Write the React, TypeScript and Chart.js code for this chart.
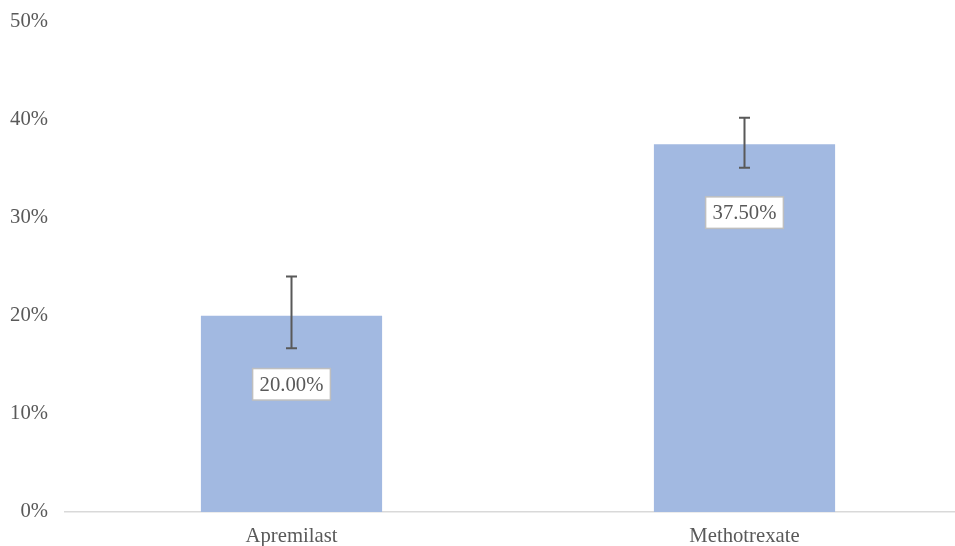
import React, { useEffect, useRef } from 'react';
import { Chart, registerables } from 'chart.js';

Chart.register(...registerables);

const categories = ['Apremilast', 'Methotrexate'];
const values = [20.0, 37.5];
const errorHigh = [24.0, 40.2];
const errorLow = [16.7, 35.1];
const valueLabels = ['20.00%', '37.50%'];
const yTicksMax = 50;
const yTickStep = 10;

const FONT = '"Liberation Serif", "Times New Roman", serif';
const TEXT = '#595959';
const FS = 20.7;

export default function App() {
  const ref = useRef<HTMLCanvasElement>(null);

  useEffect(() => {
    document.body.style.margin = '0';
    document.body.style.overflow = 'hidden';
    if (!ref.current) return;

    const errLabels = {
      id: 'errLabels',
      afterDatasetsDraw(chart: any) {
        const ctx = chart.ctx;
        const meta = chart.getDatasetMeta(0);
        const ys = chart.scales.y;
        meta.data.forEach((bar: any, i: number) => {
          const x = bar.x;
          const yh = ys.getPixelForValue(errorHigh[i]);
          const yl = ys.getPixelForValue(errorLow[i]);
          ctx.save();
          ctx.strokeStyle = TEXT;
          ctx.lineWidth = 2;
          ctx.beginPath();
          ctx.moveTo(x, yh);
          ctx.lineTo(x, yl);
          ctx.moveTo(x - 5.5, yh);
          ctx.lineTo(x + 5.5, yh);
          ctx.moveTo(x - 5.5, yl);
          ctx.lineTo(x + 5.5, yl);
          ctx.stroke();

          ctx.font = `${FS}px ${FONT}`;
          const tw = ctx.measureText(valueLabels[i]).width;
          const w = tw + 14;
          const h = 31.5;
          const cy = bar.y + 68.5;
          ctx.fillStyle = '#ffffff';
          ctx.fillRect(x - w / 2, cy - h / 2, w, h);
          ctx.strokeStyle = '#BFBFBF';
          ctx.lineWidth = 1.5;
          ctx.strokeRect(x - w / 2, cy - h / 2, w, h);
          ctx.fillStyle = TEXT;
          ctx.textAlign = 'center';
          ctx.textBaseline = 'middle';
          ctx.fillText(valueLabels[i], x, cy + 1);
          ctx.restore();
        });
      },
    };

    const chart = new Chart(ref.current, {
      type: 'bar',
      data: {
        labels: categories,
        datasets: [
          {
            data: values,
            backgroundColor: '#A2B9E1',
            borderWidth: 0,
            barPercentage: 0.4,
            categoryPercentage: 1,
          },
        ],
      },
      options: {
        animation: false,
        responsive: true,
        maintainAspectRatio: false,
        layout: { padding: { top: 21.5, left: 0, right: 0, bottom: 0 } },
        plugins: {
          legend: { display: false },
          tooltip: { enabled: false },
        },
        scales: {
          x: {
            grid: { display: false, drawTicks: false },
            border: { display: true, color: '#D9D9D9', width: 1.5 },
            ticks: { color: TEXT, font: { family: FONT, size: FS }, padding: 12 },
            afterFit: (s: any) => {
              s.height = 34;
              s.paddingLeft = 0;
              s.paddingRight = 0;
            },
          },
          y: {
            min: 0,
            max: yTicksMax,
            grid: { display: false, drawTicks: false },
            border: { display: false },
            ticks: {
              stepSize: yTickStep,
              padding: 17,
              color: TEXT,
              font: { family: FONT, size: FS },
              callback: (v: any) => `${v}%`,
            },
            afterFit: (s: any) => {
              s.width = 65;
              s.paddingTop = 0;
              s.paddingBottom = 0;
            },
          },
        },
      },
      plugins: [errLabels],
    });

    return () => chart.destroy();
  }, []);

  return (
    <div style={{ width: 971, height: 546, position: 'relative' }}>
      <canvas ref={ref} />
    </div>
  );
}
